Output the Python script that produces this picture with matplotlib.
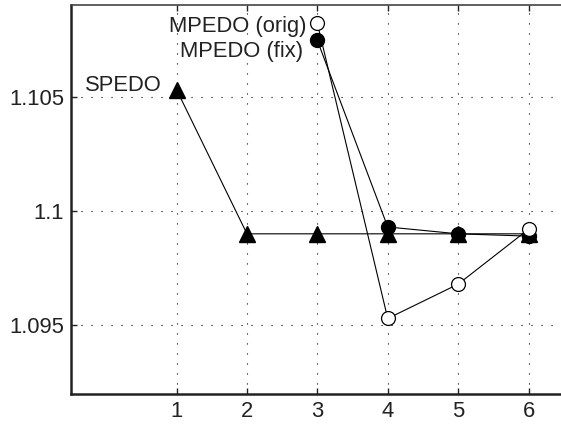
import matplotlib
matplotlib.use("Agg")
import matplotlib.pyplot as plt

############################################
# DATA
############################################

x_vals = [1, 2, 3, 4, 5, 6]
spedo = [1.1053, 1.0990, 1.0990, 1.0990, 1.0990, 1.0990]

x_mpedo = [3, 4, 5, 6]
mpedo_orig = [1.1082, 1.0953, 1.0968, 1.0992]
mpedo_fix = [1.10745, 1.0993, 1.0990, 1.0989]

xticks = [1, 2, 3, 4, 5, 6]
yticks = [1.095, 1.1, 1.105]
ytick_labels = ["1.095", "1.1", "1.105"]

############################################
# PLOT
############################################

FS = 15.8
plt.rcParams['font.family'] = ['Liberation Sans', 'DejaVu Sans']
plt.rcParams['font.size'] = FS

fig = plt.figure(figsize=(5.61, 4.24), dpi=100)
ax = fig.add_axes([71 / 561, 30 / 424, 492.7 / 561, 389 / 424])

ax.plot(x_vals, spedo, color='black', lw=0.8, marker='^', ms=12,
        mfc='black', mec='black', zorder=3)
ax.plot(x_mpedo, mpedo_fix, color='black', lw=0.8, marker='o', ms=10,
        mfc='black', mec='black', zorder=4)
ax.plot(x_mpedo, mpedo_orig, color='black', lw=0.8, marker='o', ms=10,
        mfc='white', mec='black', mew=0.9, zorder=5)

# labels placed by baseline, right aligned
ax.text(0.79, 1.10524, "SPEDO", ha='right', va='baseline', fontsize=FS,
        color='#222222')
ax.text(2.84, 1.10782, "MPEDO (orig)", ha='right', va='baseline', fontsize=FS,
        color='#222222')
ax.text(2.80, 1.10673, "MPEDO (fix)", ha='right', va='baseline', fontsize=FS,
        color='#222222')

ax.set_xlim(-0.5, 6.5)
ax.set_ylim(1.092, 1.109)
ax.set_xticks(xticks)
ax.set_yticks(yticks)
ax.set_yticklabels(ytick_labels)

ax.grid(True, color='black', linestyle=(0, (1, 8)), linewidth=0.8)
ax.tick_params(direction='in', length=4, width=1, pad=5, top=True,
               labelsize=FS, colors='#222222')

for side in ['left', 'bottom']:
    ax.spines[side].set_linewidth(1.8)
    ax.spines[side].set_color('#222222')
ax.spines['top'].set_linewidth(1.2)
ax.spines['top'].set_color('#444444')
ax.spines['right'].set_visible(False)

fig.savefig("out.png", dpi=100)
plt.close(fig)
